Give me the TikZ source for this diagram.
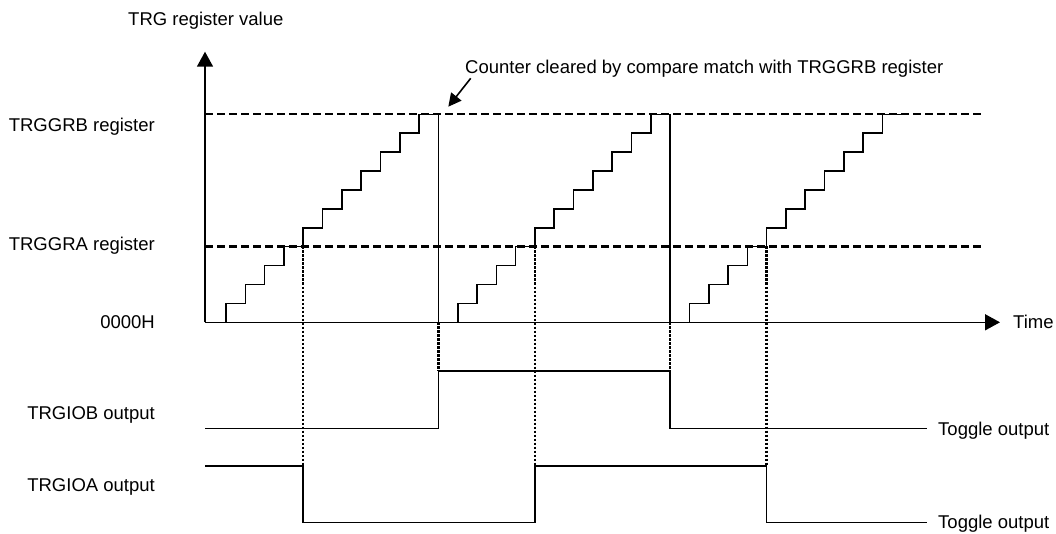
\documentclass[tikz,border=0pt]{standalone}
\usepackage{fontspec}
\setmainfont{Liberation Sans}
\usetikzlibrary{arrows.meta}
\begin{document}
\begin{tikzpicture}[x=1pt,y=-1pt,
  sig/.style={line width=1.6pt, line join=miter},
  lvl/.style={line width=2.2pt, dash pattern=on 8pt off 4pt},
  guide/.style={line width=2.4pt, dash pattern=on 2.5pt off 1.5pt},
  lbl/.style={inner sep=0pt, font=\fontsize{18.5}{22}\selectfont},
  tip/.style={-{Triangle[length=15pt,width=16pt]}}]
\useasboundingbox (0,0) rectangle (1056,534);
% axes coordinates
\coordinate (O) at (205,322.3);
\coordinate (ytip) at (205,51.7);
\coordinate (xtip) at (1000,322.3);
% level lines
\coordinate (Bs) at (205,114.3);
\coordinate (Be) at (983,114.3);
\coordinate (As) at (205,246.5);
\coordinate (Ae) at (983,246.5);
\draw[lvl] (Bs) -- (Be);
\draw[lvl] (As) -- (Ae);
% dotted guides
\draw[guide] (303.2,246.5) -- (303.2,465.7);
\draw[guide] (534.9,246.5) -- (534.9,465.7);
\draw[guide] (766.6,246.5) -- (766.6,465.7);
\draw[guide] (438.4,322.3) -- (438.4,371);
\draw[guide] (670.1,322.3) -- (670.1,371);
% staircases
\foreach \s in {226,457.7,689.4} {
  \draw[sig] (\s,322.3) \foreach \k in {0,...,10} { -- ++(0,-18.9) -- ++(19.31,0) };
}
% clear lines
\draw[sig] (438.4,114.3) -- (438.4,322.3);
\draw[sig] (670.1,114.3) -- (670.1,322.3);
% axes
\draw[sig,tip] (O) -- (ytip);
\draw[sig,tip] (O) -- (xtip);
% output signals
\draw[sig] (205,428.3) -- (438.4,428.3) -- (438.4,371) -- (670.1,371) -- (670.1,428.3) -- (926.7,428.3);
\draw[sig] (205,465.7) -- (303.2,465.7) -- (303.2,522.3) -- (534.9,522.3) -- (534.9,465.7) -- (766.6,465.7) -- (766.6,522.3) -- (926.7,522.3);
% labels
\node[lbl, anchor=base west] (ylab) at (128,26) {TRG register value};
\node[lbl, anchor=base west] (note) at (465,73.5) {Counter cleared by compare match with TRGGRB register};
\coordinate (notetip) at (448.3,106.7);
\draw[sig, -{Triangle[length=13pt,width=13pt]}] (470.7,78.3) -- (notetip);
\node[lbl, anchor=base east] (grb) at (155,131.7) {TRGGRB register};
\node[lbl, anchor=base east] (gra) at (155,250.7) {TRGGRA register};
\node[lbl, anchor=base east] (zero) at (155,328.3) {0000H};
\node[lbl, anchor=base east] (iob) at (155,419.3) {TRGIOB output};
\node[lbl, anchor=base east] (ioa) at (155,491.7) {TRGIOA output};
\node[lbl, anchor=base west] (time) at (1013,328.3) {Time};
\node[lbl, anchor=base west] (togb) at (938,435) {Toggle output};
\node[lbl, anchor=base west] (toga) at (938,528.3) {Toggle output};
\end{tikzpicture}
\end{document}
